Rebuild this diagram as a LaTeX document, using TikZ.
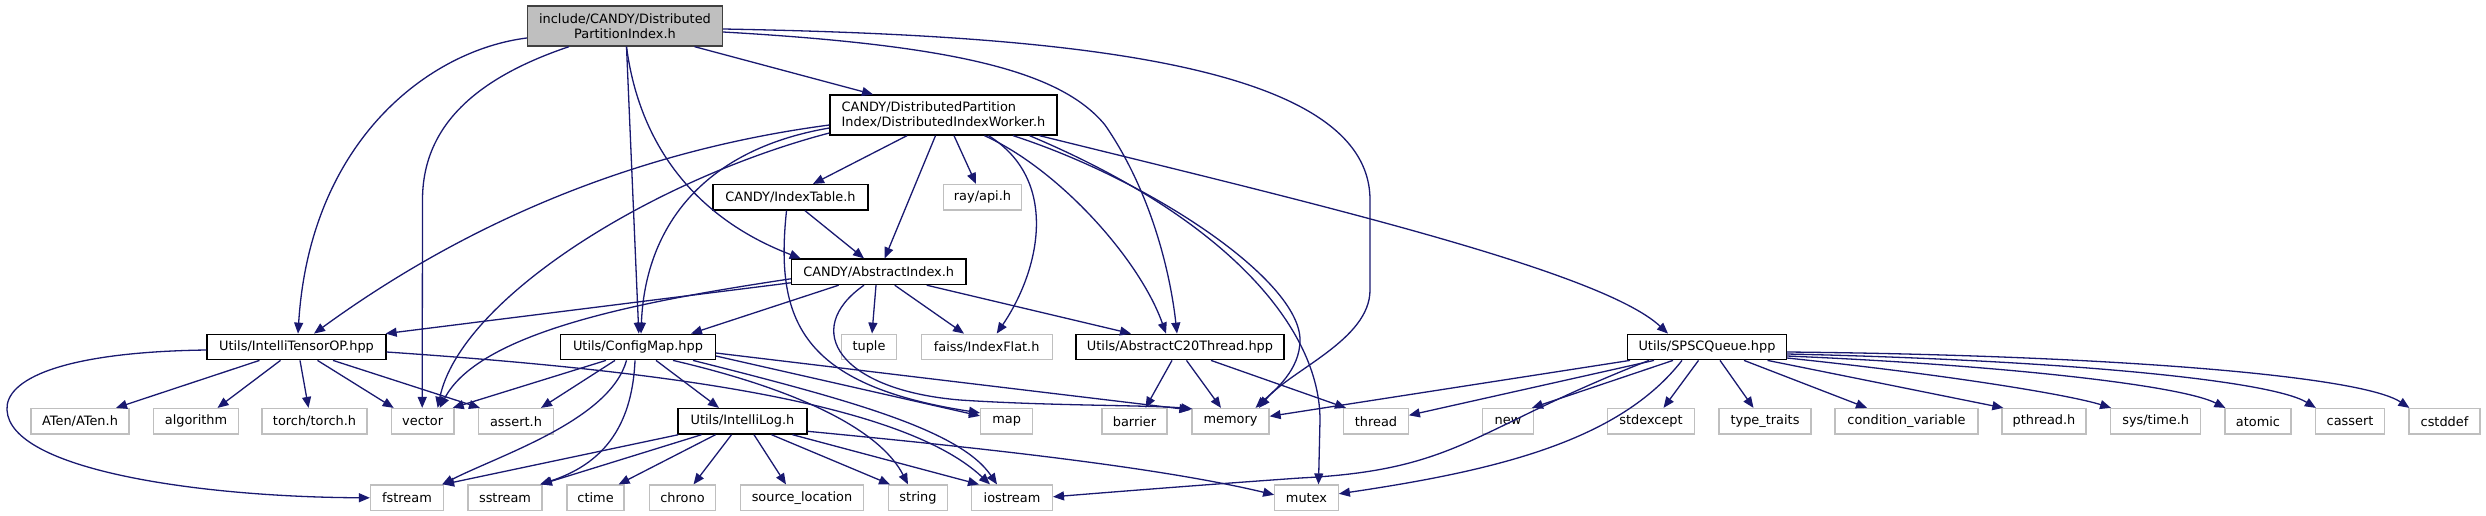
\documentclass[tikz,border=0pt]{standalone}
\usepackage{fontspec}
\setmainfont{DejaVu Sans}
\usetikzlibrary{arrows.meta}
\definecolor{edgec}{HTML}{191970}
\definecolor{extc}{HTML}{BFBFBF}
\definecolor{mainfill}{HTML}{BFBFBF}
\definecolor{maindraw}{HTML}{404040}
\tikzset{
 box/.style={rectangle, inner sep=0pt, font=\fontsize{12.9}{15}\selectfont, line width=1.3pt, minimum height=25.5pt},
 doc/.style={box, draw=black, fill=white},
 ext/.style={box, draw=extc, fill=white},
 edge/.style={draw=edgec, line width=1.3pt, -{Triangle[length=11pt,width=9pt]}},
}
\begin{document}
\begin{tikzpicture}[x=1pt,y=-1pt]
\useasboundingbox (0,0) rectangle (2486,515);
% ---- nodes
\node[box, draw=maindraw, fill=mainfill, minimum width=195pt, minimum height=40pt, align=center] (main) at (625,26) {include/CANDY/Distributed\\PartitionIndex.h};
\node[doc, minimum width=227pt, minimum height=40pt, align=left] (worker) at (943.5,115) {CANDY/DistributedPartition\\Index/DistributedIndexWorker.h};
\node[doc, minimum width=155pt] (it) at (790.5,197.3) {CANDY/IndexTable.h};
\node[ext, minimum width=78pt] (ray) at (982.5,197.3) {ray/api.h};
\node[doc, minimum width=174.6pt] (ai) at (878.7,271.8) {CANDY/AbstractIndex.h};
% row 2
\node[doc, minimum width=179pt] (ito) at (296.5,347) {Utils/IntelliTensorOP.hpp};
\node[doc, minimum width=154.5pt] (cm) at (638,347) {Utils/ConfigMap.hpp};
\node[ext, minimum width=55pt] (tuple) at (869,347) {tuple};
\node[ext, minimum width=131pt] (faiss) at (986.7,347) {faiss/IndexFlat.h};
\node[doc, minimum width=208pt] (c20) at (1180,347) {Utils/AbstractC20Thread.hpp};
\node[doc, minimum width=158.6pt] (spsc) at (1707,347) {Utils/SPSCQueue.hpp};
% row 3
\node[ext, minimum width=98pt] (aten) at (80,421.3) {ATen/ATen.h};
\node[ext, minimum width=85pt] (algo) at (196,421.3) {algorithm};
\node[ext, minimum width=105pt] (torch) at (314.5,421.3) {torch/torch.h};
\node[ext, minimum width=62.6pt] (vector) at (422.7,421.3) {vector};
\node[ext, minimum width=75pt] (assert) at (516,421.3) {assert.h};
\node[doc, minimum width=129pt] (ilog) at (742.5,421.3) {Utils/IntelliLog.h};
\node[ext, minimum width=52pt] (map) at (1006.6,421.3) {map};
\node[ext, minimum width=65pt] (barrier) at (1134.5,421.3) {barrier};
\node[ext, minimum width=77pt] (memory) at (1230.5,421.3) {memory};
\node[ext, minimum width=64.5pt] (thread) at (1376,421.3) {thread};
\node[ext, minimum width=50.5pt] (new) at (1508,421.3) {new};
\node[ext, minimum width=87pt] (stdexcept) at (1651,421.3) {stdexcept};
\node[ext, minimum width=92pt] (typetraits) at (1765,421.3) {type\_traits};
\node[ext, minimum width=143pt] (condvar) at (1906.5,421.3) {condition\_variable};
\node[ext, minimum width=84pt] (pthread) at (2044,421.3) {pthread.h};
\node[ext, minimum width=90pt] (systime) at (2155.7,421.3) {sys/time.h};
\node[ext, minimum width=66pt] (atomic) at (2258,421.3) {atomic};
\node[ext, minimum width=69pt] (cassert) at (2350,421.3) {cassert};
\node[ext, minimum width=71pt] (cstddef) at (2444.5,421.3) {cstddef};
% row 4
\node[ext, minimum width=73pt] (fstream) at (407,497.8) {fstream};
\node[ext, minimum width=74pt] (sstream) at (505,497.8) {sstream};
\node[ext, minimum width=57pt] (ctime) at (595.6,497.8) {ctime};
\node[ext, minimum width=66pt] (chrono) at (682.5,497.8) {chrono};
\node[ext, minimum width=123.6pt] (srcloc) at (802,497.8) {source\_location};
\node[ext, minimum width=59pt] (string) at (918,497.8) {string};
\node[ext, minimum width=80.7pt] (iostream) at (1012,497.8) {iostream};
\node[ext, minimum width=63.5pt] (mutex) at (1306.5,497.8) {mutex};
% ---- edges from main
\draw[edge] ([xshift=69.5pt]main.south) -- ([xshift=-70.5pt]worker.north);
\draw[edge] ([yshift=-12pt]main.west) .. controls (430,50) and (310,140) .. ([xshift=1.5pt]ito.north);
\draw[edge] ([xshift=-56pt]main.south) .. controls (470,80) and (422.5,130) .. (422.5,200) -- ([xshift=-0.5pt]vector.north);
\draw[edge] ([xshift=1.5pt]main.south) -- ([xshift=0.8pt]cm.north);
\draw[edge] ([xshift=1.5pt]main.south) .. controls (640,150) and (700,220) .. ([xshift=-78pt]ai.north);
\draw[edge] ([yshift=-6pt]main.east) .. controls (950,45) and (1060,70) .. (1105,125) .. controls (1150,190) and (1170,270) .. ([xshift=-3pt]c20.north);
\draw[edge] ([yshift=-3pt]main.east) .. controls (1050,35) and (1370,60) .. (1370,200) -- (1370,290) .. controls (1370,340) and (1290,370) .. ([xshift=28.5pt]memory.north);
% ---- edges from worker
\draw[edge] ([xshift=-36.5pt]worker.south) -- ([xshift=22.5pt]it.north);
\draw[edge] ([xshift=-8pt]worker.south) -- ([xshift=6pt]ai.north);
\draw[edge] ([xshift=10.5pt]worker.south) -- ([xshift=-6.5pt]ray.north);
\draw[edge] ([yshift=-10pt]worker.west) .. controls (640,150) and (470,220) .. ([xshift=17.5pt]ito.north);
\draw[edge] ([yshift=-18pt]worker.west) .. controls (650,180) and (460,300) .. ([xshift=15pt]vector.north);
\draw[edge] ([yshift=-13pt]worker.west) .. controls (700,150) and (645,230) .. ([xshift=3pt]cm.north);
\draw[edge] ([xshift=45pt]worker.south) .. controls (1060,180) and (1040,270) .. ([xshift=10pt]faiss.north);
\draw[edge] ([xshift=41pt]worker.south) .. controls (1060,170) and (1140,260) .. ([xshift=-14pt]c20.north);
\draw[edge] ([xshift=69.5pt]worker.south) .. controls (1150,180) and (1300,280) .. (1300,340) .. controls (1300,370) and (1275,390) .. ([xshift=25pt]memory.north);
\draw[edge] ([xshift=86pt]worker.south) .. controls (1230,220) and (1320,330) .. (1320,420) -- ([xshift=12pt]mutex.north);
\draw[edge] ([xshift=96pt]worker.south) .. controls (1300,200) and (1600,270) .. ([xshift=-39pt]spsc.north);
% ---- edges from IndexTable
\draw[edge] ([xshift=14.5pt]it.south) -- ([xshift=-14.7pt]ai.north);
\draw[edge] ([xshift=-4pt]it.south) .. controls (775,320) and (800,385) .. ([yshift=-5pt]map.north west);
% ---- edges from AbstractIndex
\draw[edge] ([yshift=-11pt]ai.west) -- ([xshift=-1pt]ito.north east);
\draw[edge] ([yshift=-7pt]ai.west) .. controls (650,300) and (480,330) .. ([xshift=17pt]vector.north);
\draw[edge] ([xshift=-40pt]ai.south) -- ([xshift=53pt]cm.north);
\draw[edge] ([xshift=-2.7pt]ai.south) -- ([xshift=3pt]tuple.north);
\draw[edge] ([xshift=16pt]ai.south) -- ([xshift=-22.7pt]faiss.north);
\draw[edge] ([xshift=48pt]ai.south) -- ([xshift=-49pt]c20.north);
\draw[edge] ([xshift=-14.7pt]ai.south) .. controls (800,330) and (840,390) .. (960,400) .. controls (1050,406) and (1150,405) .. ([xshift=1pt,yshift=-1pt]memory.north west);
% ---- edges from IntelliTensorOP
\draw[edge] ([yshift=-3pt]ito.west) .. controls (60,352) and (5,380) .. (7,410) .. controls (10,470) and (200,497) .. (fstream.west);
\draw[edge] ([xshift=-37pt]ito.south) -- ([xshift=36pt]aten.north);
\draw[edge] ([xshift=-16pt]ito.south) -- ([xshift=21.5pt]algo.north);
\draw[edge] ([xshift=3.5pt]ito.south) -- ([xshift=-6pt]torch.north);
\draw[edge] ([xshift=21pt]ito.south) -- ([xshift=-29pt]vector.north);
\draw[edge] ([xshift=36.5pt]ito.south) -- ([xshift=-36pt]assert.north);
\draw[edge] ([yshift=-5pt]ito.east) .. controls (650,370) and (900,400) .. ([xshift=-22pt]iostream.north);
% ---- edges from ConfigMap
\draw[edge] ([xshift=-32pt]cm.south) -- ([xshift=30pt]vector.north);
\draw[edge] ([xshift=-23pt]cm.south) -- ([xshift=25pt]assert.north);
\draw[edge] ([xshift=-11.5pt]cm.south) .. controls (610,420) and (500,455) .. ([xshift=-2pt]fstream.north east);
\draw[edge] ([xshift=-3pt]cm.south) .. controls (632,430) and (600,465) .. ([xshift=35pt]sstream.north);
\draw[edge] ([xshift=18pt]cm.south) -- ([xshift=-23.5pt]ilog.north);
\draw[edge] ([xshift=35pt]cm.south) .. controls (800,390) and (880,430) .. ([xshift=-10pt]string.north);
\draw[edge] ([xshift=55pt]cm.south) .. controls (850,400) and (960,430) .. ([xshift=-15pt]iostream.north);
\draw[edge] ([yshift=-9pt]cm.east) -- ([yshift=-8pt]map.north west);
\draw[edge] ([yshift=-6pt]cm.east) -- ([xshift=-1pt,yshift=-2pt]memory.north west);
% ---- edges from IntelliLog
\draw[edge] ([xshift=1pt]ilog.south west) -- ([xshift=-1pt]fstream.north east);
\draw[edge] ([xshift=-41pt]ilog.south) -- ([xshift=36pt]sstream.north);
\draw[edge] ([xshift=-27pt]ilog.south) -- ([xshift=23pt]ctime.north);
\draw[edge] ([xshift=-11pt]ilog.south) -- ([xshift=11pt]chrono.north);
\draw[edge] ([xshift=11.5pt]ilog.south) -- ([xshift=-16pt]srcloc.north);
\draw[edge] ([xshift=29pt]ilog.south) -- ([xshift=-28pt]string.north);
\draw[edge] ([xshift=50pt]ilog.south) -- ([xshift=-33pt]iostream.north);
\draw[edge] ([yshift=-10pt]ilog.east) .. controls (950,445) and (1150,465) .. ([yshift=3pt]mutex.west);
% ---- edges from AbstractC20Thread
\draw[edge] ([xshift=-8pt]c20.south) -- ([xshift=11pt]barrier.north);
\draw[edge] ([xshift=6.5pt]c20.south) -- ([xshift=-9.5pt]memory.north);
\draw[edge] ([xshift=31pt]c20.south) -- ([xshift=-30pt]thread.north);
% ---- edges from SPSCQueue
\draw[edge] ([xshift=-77pt]spsc.south) -- ([yshift=5pt]memory.east);
\draw[edge] ([xshift=-53pt]spsc.south) -- ([yshift=6pt]thread.east);
\draw[edge] ([xshift=-34pt]spsc.south) -- ([xshift=-2pt]new.north east);
\draw[edge] ([xshift=-8.5pt]spsc.south) -- ([xshift=12.5pt]stdexcept.north);
\draw[edge] ([xshift=13pt]spsc.south) -- ([xshift=-11.5pt]typetraits.north);
\draw[edge] ([xshift=37pt]spsc.south) -- ([xshift=-39.5pt]condvar.north);
\draw[edge] ([xshift=60.5pt]spsc.south) -- ([xshift=2pt]pthread.north west);
\draw[edge] ([yshift=-11pt]spsc.east) .. controls (1950,375) and (2070,395) .. ([xshift=1pt]systime.north west);
\draw[edge] ([yshift=-9pt]spsc.east) .. controls (2000,365) and (2180,385) .. ([xshift=1pt]atomic.north west);
\draw[edge] ([yshift=-7pt]spsc.east) .. controls (2060,360) and (2270,380) .. ([xshift=1pt]cassert.north west);
\draw[edge] ([yshift=-5pt]spsc.east) .. controls (2100,355) and (2360,375) .. ([xshift=1pt]cstddef.north west);
\draw[edge] ([xshift=-58pt]spsc.south) .. controls (1470,430) and (1460,470) .. (1300,478) .. controls (1200,485) and (1100,493) .. ([yshift=1pt]iostream.east);
\draw[edge] ([xshift=-25pt]spsc.south) .. controls (1620,440) and (1500,470) .. ([yshift=4pt]mutex.east);
\end{tikzpicture}
\end{document}
